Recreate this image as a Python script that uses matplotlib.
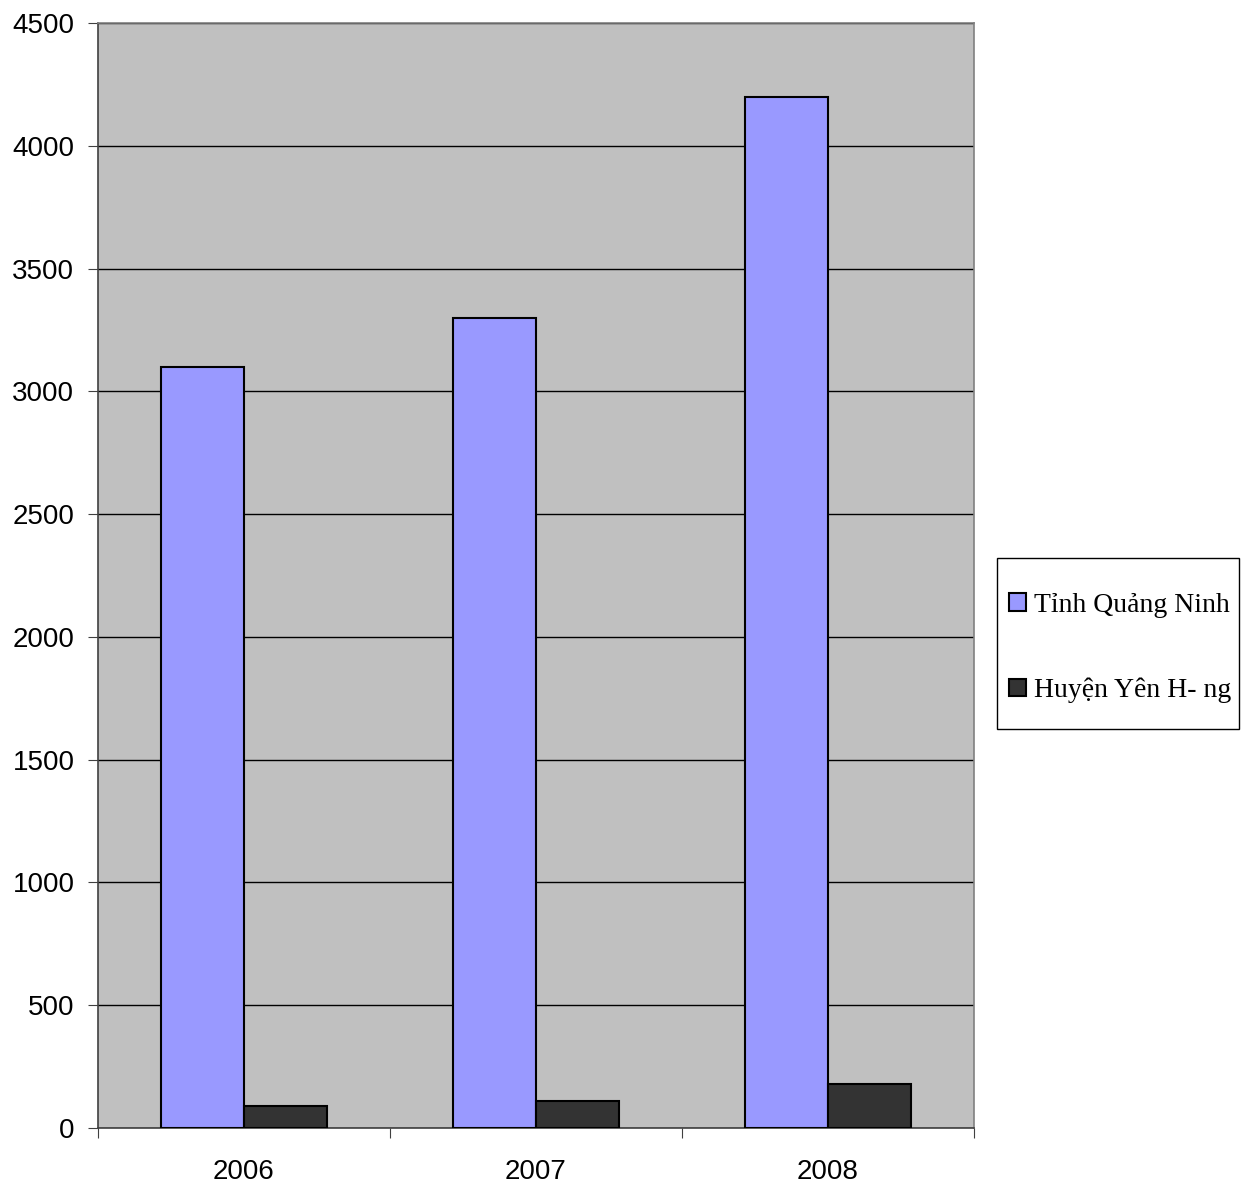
import matplotlib
matplotlib.use("Agg")
import matplotlib.pyplot as plt
from matplotlib.patches import Rectangle
import numpy as np

years = ["2006", "2007", "2008"]
tinh_quang_ninh = [3100, 3300, 4200]
huyen_yen_hung = [90, 110, 180]
series_labels = ["Tỉnh Quảng Ninh", "Huyện Yên H- ng"]
y_ticks = [0, 500, 1000, 1500, 2000, 2500, 3000, 3500, 4000, 4500]

fig = plt.figure(figsize=(12.44, 11.86), dpi=100)
ax = fig.add_axes([98/1244, 1 - 1128/1186, (974-98)/1244, (1128-23)/1186])
ax.set_facecolor("#C0C0C0")

x = np.arange(len(years))
w = 0.285
b1 = ax.bar(x - w/2, tinh_quang_ninh, width=w, color="#9999FF", edgecolor="black", linewidth=1.5, zorder=3)
b2 = ax.bar(x + w/2, huyen_yen_hung, width=w, color="#333333", edgecolor="black", linewidth=1.5, zorder=3)

ax.set_xlim(-0.5, len(years) - 0.5)
ax.set_ylim(0, 4500)
ax.set_yticks(y_ticks)
ax.set_yticklabels([str(v) for v in y_ticks], fontsize=20, family="Liberation Sans")
ax.yaxis.grid(True, color="black", linewidth=1, zorder=1)
ax.set_axisbelow(True)

ax.set_xticks(np.arange(-0.5, len(years), 1.0))
ax.set_xticklabels([])
ax.set_xticks(x, minor=True)
ax.set_xticklabels(years, minor=True, fontsize=20, family="Liberation Sans")
ax.tick_params(axis="x", which="major", length=7, direction="out", color="#404040")
ax.tick_params(axis="x", which="minor", length=0, pad=22)
ax.tick_params(axis="y", length=7, direction="out", pad=10, color="#404040")

for s in ["left", "bottom"]:
    ax.spines[s].set_color("#404040")
    ax.spines[s].set_linewidth(1.2)
for s in ["top", "right"]:
    ax.spines[s].set_color("#808080")
    ax.spines[s].set_linewidth(1.2)

# legend frame
fig.patches.append(Rectangle((997/1244, 1 - 729/1186), (1239-997)/1244, (729-558)/1186,
                             transform=fig.transFigure, facecolor="white", edgecolor="black",
                             linewidth=1, zorder=0))
leg = fig.legend([b1, b2], series_labels, loc="center left",
                 bbox_to_anchor=(990/1244, 1 - 648/1186), frameon=False,
                 prop={"family": "Liberation Serif", "size": 20},
                 handlelength=0.6, handleheight=0.6, handletextpad=0.3,
                 labelspacing=2.15, borderpad=0.2)

fig.savefig("out.png", dpi=100, facecolor="white")
